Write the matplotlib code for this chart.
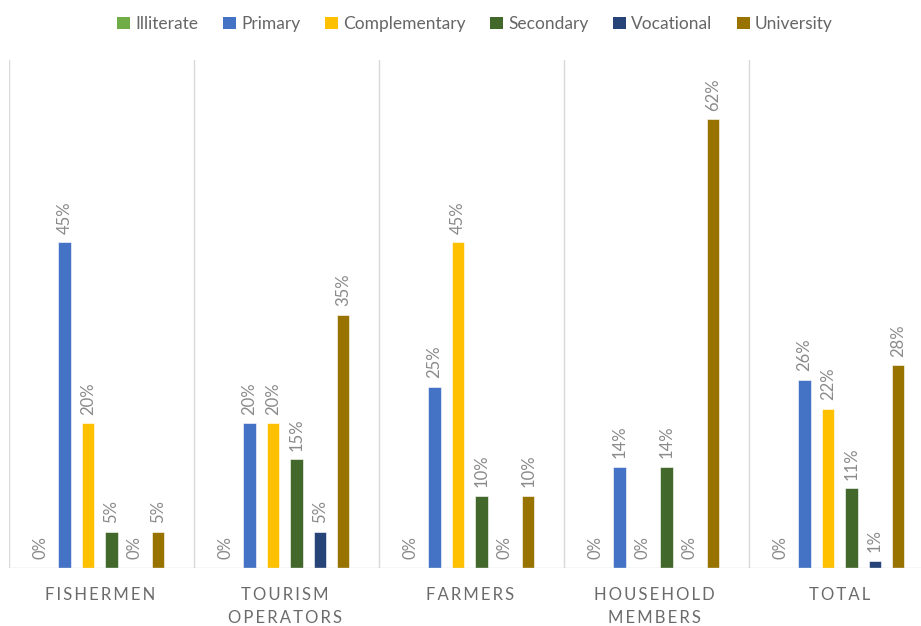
import numpy as np
import matplotlib
matplotlib.use("Agg")
import matplotlib.pyplot as plt
from matplotlib.patches import Patch

plt.rcParams['font.family'] = ['Lato', 'DejaVu Sans']

# datos del gráfico
grupos = ["FISHERMEN", "TOURISM\nOPERATORS", "FARMERS", "HOUSEHOLD\nMEMBERS", "TOTAL"]
niveles = ["Illiterate", "Primary", "Complementary", "Secondary", "Vocational", "University"]
colores = ["#70AD47", "#4472C4", "#FFC000", "#43682B", "#264478", "#997300"]

illiterate = [0, 0, 0, 0, 0]
primary = [45, 20, 25, 14, 26]
complementary = [20, 20, 45, 0, 22]
secondary = [5, 15, 10, 14, 11]
vocational = [0, 5, 0, 0, 1]
university = [5, 35, 10, 62, 28]

series = [illiterate, primary, complementary, secondary, vocational, university]

fig = plt.figure(figsize=(9.21, 6.26), dpi=100)
ax = fig.add_axes([9 / 921, 1 - 568 / 626, 925 / 921, 508 / 626])

n = len(grupos)
x = np.arange(n)
paso = 0.127
ancho = 0.066
gris = "#8a8a8a"

for i, (nombre, vals, col) in enumerate(zip(niveles, series, colores)):
    pos = x + (i - 2.5) * paso - 0.01
    ax.bar(pos, vals, width=ancho, color=col, edgecolor="white", linewidth=0.4, label=nombre)
    for px, v in zip(pos, vals):
        ax.text(px, v + 1.2, f"{v}%", rotation=90, ha="center", va="bottom",
                fontsize=12, color=gris)

ax.set_xlim(-0.5, n - 0.5)
ax.set_ylim(0, 70.2)

# separadores verticales entre categorías
for b in np.arange(-0.5, n, 1.0):
    ax.axvline(b, color="#d9d9d9", linewidth=1, zorder=0)

for s in ax.spines.values():
    s.set_visible(False)
ax.axhline(0, color="#d9d9d9", linewidth=1, zorder=3)
ax.set_yticks([])
ax.set_xticks([])

# etiquetas de categoría con espaciado entre letras
hs = "\u2009"
for xi, g in zip(x, grupos):
    lineas = [hs.join(list(l)) for l in g.split("\n")]
    ax.text(xi - 0.01, -2.6, "\n".join(lineas), ha="center", va="top", fontsize=12,
            color="#6b6b6b", linespacing=1.55)

handles = [Patch(facecolor=c, label=l) for c, l in zip(colores, niveles)]
fig.legend(handles=handles, loc="center", bbox_to_anchor=(475 / 921, 1 - 24 / 626),
           ncol=6, frameon=False, labelcolor="#666666",
           handlelength=0.75, handleheight=0.75, handletextpad=0.3, columnspacing=1.4,
           prop={"size": 12.5})

fig.savefig("out.png", dpi=100)
